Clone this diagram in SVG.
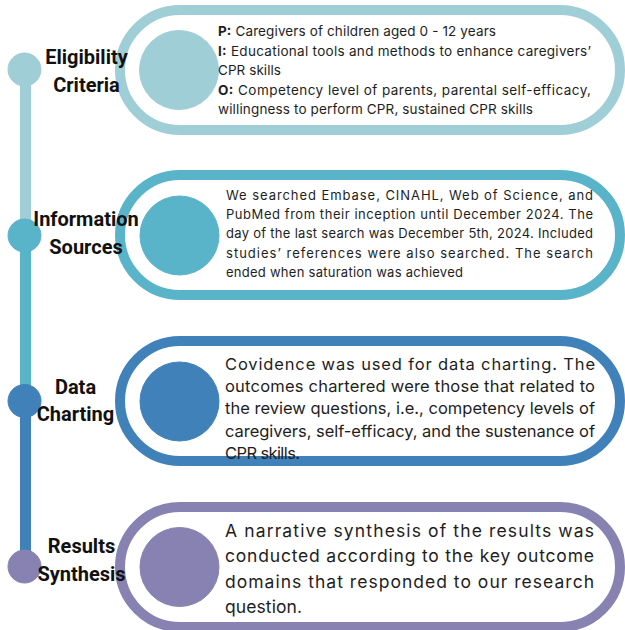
<svg xmlns="http://www.w3.org/2000/svg" width="625" height="630" viewBox="0 0 625 630">
<style>
.bg{fill:#ffffff}
.pill{fill:#ffffff;stroke-width:10}
.lbl{font-family:Roboto,"Liberation Sans",sans-serif;font-weight:bold;font-size:20px;fill:#111111;text-anchor:middle}
.body{font-family:Inter,"Liberation Sans",sans-serif;fill:#1e1e1e}
.b{font-weight:bold}
.t1{font-size:13.5px}
.t2{font-size:13px}
.t3{font-size:16.5px}
.t4{font-size:17.5px}
.c1{fill:#a0ced7;stroke:#a0ced7}
.c2{fill:#5ab4c9;stroke:#5ab4c9}
.c3{fill:#4081ba;stroke:#4081ba}
.c4{fill:#8782b1;stroke:#8782b1}
.seg{stroke-width:11;fill:none}
</style>
<rect class="bg" x="0" y="0" width="625" height="630"/>
<g id="connectors">
<line class="seg c1" x1="25.5" y1="69" x2="25.5" y2="235"/>
<line class="seg c2" x1="25.5" y1="235" x2="25.5" y2="401"/>
<line class="seg c3" x1="25.5" y1="401" x2="25.5" y2="566"/>
</g>
<g id="eligibility-criteria">
<circle class="c1" cx="24.5" cy="69.5" r="16.5" stroke="none"/>
<rect class="pill c1" style="fill:#ffffff" x="120" y="10" width="500" height="120" rx="60"/>
<circle class="c1" cx="179" cy="70" r="39.5" stroke="none"/>
<text class="body t1" x="218" y="36" textLength="278" lengthAdjust="spacing"><tspan class="b">P:</tspan> Caregivers of children aged 0 - 12 years</text>
<text class="body t1" x="218" y="55.5" textLength="373" lengthAdjust="spacing"><tspan class="b">I:</tspan> Educational tools and methods to enhance caregivers’</text>
<text class="body t1" x="218" y="75" textLength="63" lengthAdjust="spacing">CPR skills</text>
<text class="body t1" x="218" y="94.5" textLength="373" lengthAdjust="spacing"><tspan class="b">O:</tspan> Competency level of parents, parental self-efficacy,</text>
<text class="body t1" x="218" y="114" textLength="315" lengthAdjust="spacing">willingness to perform CPR, sustained CPR skills</text>
<text class="lbl" x="86.5" y="63.5">Eligibility</text>
<text class="lbl" x="86.5" y="91.5">Criteria</text>
</g>
<g id="information-sources">
<circle class="c2" cx="24.5" cy="235.5" r="16.5" stroke="none"/>
<rect class="pill c2" style="fill:#ffffff" x="120" y="175" width="500" height="120" rx="60"/>
<circle class="c2" cx="179.5" cy="235.5" r="39.5" stroke="none"/>
<text class="body t2" x="226" y="200" textLength="367" lengthAdjust="spacing">We searched Embase, CINAHL, Web of Science, and</text>
<text class="body t2" x="226" y="219.2" textLength="367" lengthAdjust="spacing">PubMed from their inception until December 2024. The</text>
<text class="body t2" x="226" y="238.4" textLength="367" lengthAdjust="spacing">day of the last search was December 5th, 2024. Included</text>
<text class="body t2" x="226" y="257.6" textLength="367" lengthAdjust="spacing">studies’ references were also searched. The search</text>
<text class="body t2" x="226" y="276.8" textLength="237" lengthAdjust="spacing">ended when saturation was achieved</text>
<text class="lbl" x="86" y="226">Information</text>
<text class="lbl" x="86" y="253.5">Sources</text>
</g>
<g id="data-charting">
<circle class="c3" cx="24.5" cy="401" r="16.5" stroke="none"/>
<rect class="pill c3" style="fill:#ffffff" x="120" y="341" width="500" height="120" rx="60"/>
<circle class="c3" cx="179.5" cy="401.5" r="39.5" stroke="none"/>
<text class="body t3" x="225" y="369.5" textLength="370" lengthAdjust="spacing">Covidence was used for data charting. The</text>
<text class="body t3" x="225" y="392" textLength="370" lengthAdjust="spacing">outcomes chartered were those that related to</text>
<text class="body t3" x="225" y="414" textLength="370" lengthAdjust="spacing">the review questions, i.e., competency levels of</text>
<text class="body t3" x="225" y="436.5" textLength="370" lengthAdjust="spacing">caregivers, self-efficacy, and the sustenance of</text>
<text class="body t3" x="225" y="459" textLength="75" lengthAdjust="spacing">CPR skills.</text>
<text class="lbl" x="75.5" y="393.5">Data</text>
<text class="lbl" x="75.5" y="421">Charting</text>
</g>
<g id="results-synthesis">
<circle class="c4" cx="24.5" cy="566.5" r="16.5" stroke="none"/>
<rect class="pill c4" style="fill:#ffffff" x="120" y="507" width="500" height="120" rx="60"/>
<circle class="c4" cx="179.5" cy="567" r="39.5" stroke="none"/>
<text class="body t4" x="225" y="537" textLength="369" lengthAdjust="spacing">A narrative synthesis of the results was</text>
<text class="body t4" x="225" y="562.3" textLength="369" lengthAdjust="spacing">conducted according to the key outcome</text>
<text class="body t4" x="225" y="587.7" textLength="369" lengthAdjust="spacing">domains that responded to our research</text>
<text class="body t4" x="225" y="613" textLength="77" lengthAdjust="spacing">question.</text>
<text class="lbl" x="81.5" y="553">Results</text>
<text class="lbl" x="81.5" y="581">Synthesis</text>
</g>
</svg>
